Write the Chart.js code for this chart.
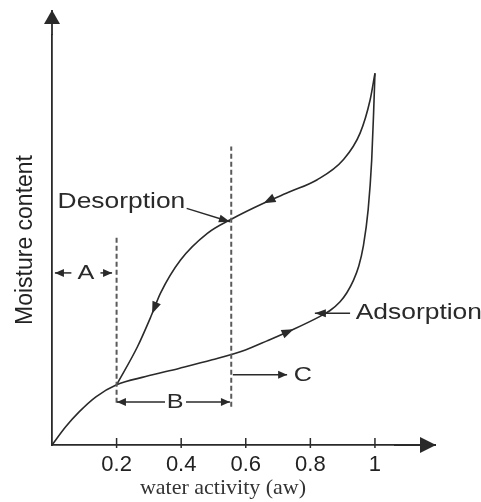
<!DOCTYPE html>
<html>
<head>
<meta charset="utf-8">
<script src="https://cdn.jsdelivr.net/npm/chart.js@4.4.0/dist/chart.umd.min.js"></script>
<style>
  html, body { margin: 0; padding: 0; background: #fff; }
  #wrap { width: 481px; height: 502px; }
</style>
</head>
<body>
<div id="wrap"><canvas id="grafico"></canvas></div>
<script>
// valores (aw x umidade, unidade arbitraria)
const xTicks = [0.2, 0.4, 0.6, 0.8, 1]
const adsorptionX = [0, 0.043, 0.084, 0.136, 0.2, 0.29, 0.393, 0.496, 0.599, 0.666, 0.748, 0.83, 0.86, 0.892, 0.913, 0.933, 0.95, 0.964, 0.979, 0.99, 0.996, 1]
const adsorptionY = [0, 4.3, 7.7, 11.2, 14, 15.9, 17.8, 19.8, 22.1, 24.2, 26.9, 29.9, 31.2, 33.3, 35.4, 38.2, 41.6, 46.2, 54.7, 66.3, 77.5, 86.4]
const desorptionX = [0.2, 0.265, 0.306, 0.336, 0.398, 0.481, 0.558, 0.655, 0.738, 0.82, 0.902, 0.954, 0.985, 1]
const desorptionY = [14, 22.9, 29.8, 35.3, 43, 49.2, 52.6, 56.2, 58.9, 61.6, 66.3, 72.5, 80.2, 86.4]

// linhas tracejadas que separam as zonas A, B, C
const dashedX = [0.2, 0.555]
const dashedFrom = [9.8, 8.9]
const dashedTo = [48.8, 69.4]

// setas sobre as curvas: serie, x, sentido
const curveArrows = [
  { serie: 1, x: 0.655, dir: -1 },
  { serie: 1, x: 0.31, dir: -1 },
  { serie: 0, x: 0.748, dir: 1 }
]

const cor = '#2a2a2a'
const fonteSans = '"Liberation Sans", Arial, sans-serif'

function pontos(xs, ys) {
  return xs.map((x, i) => ({ x: x, y: ys[i] }))
}

function ponta(ctx, px, py, ang, comp, larg) {
  ctx.save()
  ctx.translate(px, py)
  ctx.rotate(ang)
  ctx.beginPath()
  ctx.moveTo(0, 0)
  ctx.lineTo(-comp, -larg / 2)
  ctx.lineTo(-comp, larg / 2)
  ctx.closePath()
  ctx.fill()
  ctx.restore()
}

function seta(ctx, x0, y0, x1, y1, comp, larg) {
  ctx.beginPath()
  ctx.moveTo(x0, y0)
  ctx.lineTo(x1, y1)
  ctx.stroke()
  ponta(ctx, x1, y1, Math.atan2(y1 - y0, x1 - x0), comp, larg)
}

function texto(ctx, t, cx, cy, tamanho) {
  ctx.save()
  ctx.translate(cx, cy)
  ctx.scale(1.2, 1)
  ctx.font = `${tamanho}px ${fonteSans}`
  ctx.textAlign = 'center'
  ctx.textBaseline = 'middle'
  ctx.fillText(t, 0, 0)
  ctx.restore()
}

const desenhos = {
  id: 'desenhos',
  afterDatasetsDraw(chart) {
    const { ctx, chartArea } = chart
    const sx = chart.scales.x
    const sy = chart.scales.y
    const X = v => sx.getPixelForValue(v)
    const Y = v => sy.getPixelForValue(v)
    ctx.save()
    ctx.strokeStyle = cor
    ctx.fillStyle = cor

    // prolonga os eixos com as setas
    ctx.lineWidth = 1.8
    seta(ctx, chartArea.right, chartArea.bottom, chartArea.right + 42, chartArea.bottom, 16, 16)
    seta(ctx, chartArea.left, chartArea.top, chartArea.left, chartArea.top - 25, 14, 16)

    // marcas dos ticks
    ctx.lineWidth = 1.5
    xTicks.forEach(v => {
      ctx.beginPath()
      ctx.moveTo(X(v), chartArea.bottom - 7)
      ctx.lineTo(X(v), chartArea.bottom + 3)
      ctx.stroke()
    })

    // tracejadas
    ctx.save()
    ctx.strokeStyle = '#5a5a5a'
    ctx.lineWidth = 2
    ctx.setLineDash([5, 3])
    dashedX.forEach((v, i) => {
      ctx.beginPath()
      ctx.moveTo(X(v), Y(dashedFrom[i]))
      ctx.lineTo(X(v), Y(dashedTo[i]))
      ctx.stroke()
    })
    ctx.restore()

    // setas nas curvas
    curveArrows.forEach(a => {
      const pts = chart.data.datasets[a.serie].data
      let i = 0
      while (i < pts.length - 2 && pts[i + 1].x < a.x) i++
      const p0 = pts[i], p1 = pts[i + 1]
      const t = (a.x - p0.x) / (p1.x - p0.x)
      const px = X(a.x)
      const py = Y(p0.y + t * (p1.y - p0.y))
      let ang = Math.atan2(Y(p1.y) - Y(p0.y), X(p1.x) - X(p0.x))
      if (a.dir < 0) ang += Math.PI
      ponta(ctx, px, py, ang, 12, 9)
    })

    // A, B, C
    ctx.lineWidth = 1.5
    const yA = Y(40), yB = Y(10), yC = Y(16.3)
    seta(ctx, X(0.06), yA, X(0.009), yA, 9, 8)
    seta(ctx, X(0.15), yA, X(0.186), yA, 9, 8)
    texto(ctx, 'A', X(0.105), yA, 21)
    seta(ctx, X(0.35), yB, X(0.201), yB, 9, 8)
    seta(ctx, X(0.415), yB, X(0.551), yB, 9, 8)
    texto(ctx, 'B', X(0.381), yB, 21)
    seta(ctx, X(0.56), yC, X(0.728), yC, 9, 8)
    texto(ctx, 'C', X(0.777), yC, 21)

    // rotulos das curvas
    texto(ctx, 'Desorption', X(0.215), Y(56.5), 22)
    seta(ctx, X(0.417), Y(55), X(0.551), Y(51.9), 11, 8)
    texto(ctx, 'Adsorption', X(1.136), Y(30.7), 22)
    seta(ctx, X(0.923), Y(30.6), X(0.814), Y(30.6), 11, 8)

    ctx.restore()
  }
}

new Chart(document.getElementById('grafico'), {
  type: 'scatter',
  data: {
    datasets: [
      {
        label: 'Adsorption',
        data: pontos(adsorptionX, adsorptionY),
        showLine: true,
        borderColor: cor,
        borderWidth: 1.6,
        pointRadius: 0,
        cubicInterpolationMode: 'monotone',
        fill: false
      },
      {
        label: 'Desorption',
        data: pontos(desorptionX, desorptionY),
        showLine: true,
        borderColor: cor,
        borderWidth: 1.6,
        pointRadius: 0,
        cubicInterpolationMode: 'monotone',
        fill: false
      }
    ]
  },
  options: {
    responsive: true,
    maintainAspectRatio: false,
    animation: false,
    layout: { padding: { top: 35, right: 87, left: 0, bottom: 0 } },
    plugins: {
      legend: { display: false },
      tooltip: { enabled: false }
    },
    scales: {
      x: {
        type: 'linear',
        min: 0,
        max: 1.059,
        grid: { display: false, drawTicks: false },
        border: { display: true, color: cor, width: 1.8 },
        afterBuildTicks: s => { s.ticks = xTicks.map(v => ({ value: v })) },
        afterFit: s => { s.height = 57 },
        ticks: {
          autoSkip: false,
          maxRotation: 0,
          padding: 7,
          color: '#222',
          font: { family: fonteSans, size: 22 },
          callback: v => String(v)
        },
        title: {
          display: true,
          text: 'water activity (aw)',
          color: '#333',
          font: { family: '"Liberation Serif", "Times New Roman", serif', size: 22 },
          padding: { top: 0, bottom: 1 }
        }
      },
      y: {
        min: 0,
        max: 95.3,
        grid: { display: false, drawTicks: false },
        border: { display: true, color: cor, width: 1.8 },
        ticks: { display: false },
        afterFit: s => { s.width = 52 },
        title: {
          display: true,
          text: 'Moisture content',
          color: '#222',
          font: { family: fonteSans, size: 23 },
          padding: { top: 12, bottom: 0 }
        }
      }
    }
  },
  plugins: [desenhos]
})
</script>
</body>
</html>
